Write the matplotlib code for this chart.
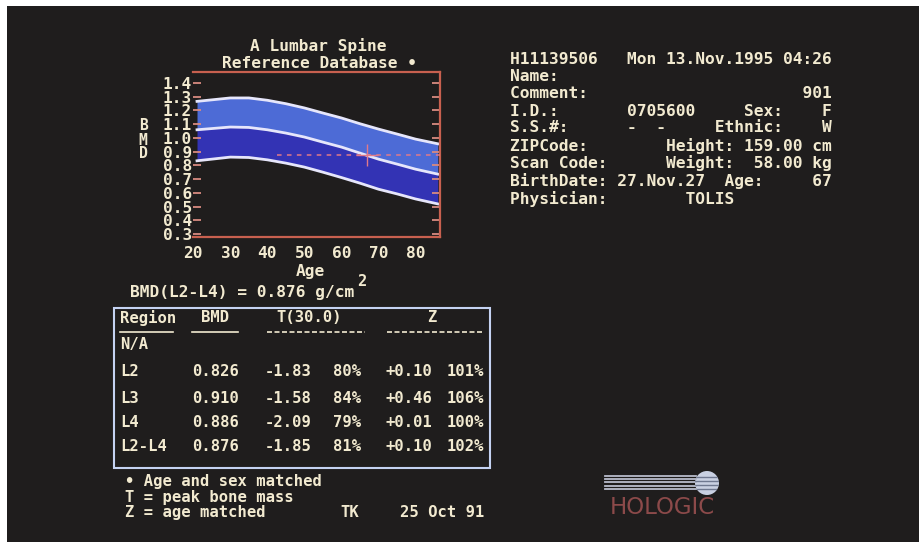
import matplotlib
matplotlib.use('Agg')
import matplotlib.pyplot as plt
from matplotlib.patches import Rectangle, Ellipse
from matplotlib.lines import Line2D

# ---------------- data ----------------
ages = [21, 30, 35, 40, 45, 50, 55, 60, 65, 70, 75, 80, 86]
upper = [1.266, 1.291, 1.291, 1.274, 1.249, 1.218, 1.181, 1.145, 1.103, 1.064, 1.028, 0.991, 0.957]
mean = [1.059, 1.079, 1.076, 1.059, 1.035, 1.006, 0.969, 0.933, 0.889, 0.845, 0.809, 0.772, 0.736]
lower = [0.833, 0.860, 0.857, 0.840, 0.816, 0.787, 0.750, 0.711, 0.670, 0.626, 0.592, 0.555, 0.519]
patient_age = 67
patient_bmd = 0.876
ref_line_start = 42.5

y_ticks = [0.3, 0.4, 0.5, 0.6, 0.7, 0.8, 0.9, 1.0, 1.1, 1.2, 1.3, 1.4]
x_ticks = [20, 30, 40, 50, 60, 70, 80]

regions = ['L2', 'L3', 'L4', 'L2-L4']
bmd_vals = [0.826, 0.910, 0.886, 0.876]
t_scores = [-1.83, -1.58, -2.09, -1.85]
t_pcts = [80, 84, 79, 81]
z_scores = [0.10, 0.46, 0.01, 0.10]
z_pcts = [101, 106, 100, 102]

info_lines = [
    "H11139506   Mon 13.Nov.1995 04:26",
    "Name:",
    "Comment:                      901",
    "I.D.:       0705600     Sex:    F",
    "S.S.#:      -  -     Ethnic:    W",
    "ZIPCode:        Height: 159.00 cm",
    "Scan Code:      Weight:  58.00 kg",
    "BirthDate: 27.Nov.27  Age:     67",
    "Physician:        TOLIS",
]

# ---------------- style ----------------
W, H = 919, 542
BG = '#1f1d1d'
TXT = '#f2ead0'
AXC = '#c8604f'
LIGHT = '#4d6bd6'
DARK = '#3333b4'
CURVE = '#e6e6fb'
PINK = '#e07a8a'
MONO = 'DejaVu Sans Mono'

fig = plt.figure(figsize=(W / 100, H / 100), dpi=100)
fig.patch.set_facecolor('white')
fig.add_artist(Rectangle((7 / W, 0), 1 - 7 / W, 1 - 6 / H, transform=fig.transFigure,
                         facecolor=BG, edgecolor='none', zorder=0))


def P(x, y):
    return x / W, 1 - y / H


def T(x, y, s, size=11.6, ha='left', color=TXT, **kw):
    fig.text(*P(x, y), s, ha=ha, va='center', fontsize=size, color=color,
             family=MONO, fontweight='bold', **kw)


# ---------------- chart ----------------
ax = fig.add_axes([193.3 / W, 1 - 236.7 / H, (440 - 193.3) / W, (236.7 - 72) / H])
ax.set_facecolor('none')
ax.set_xlim(20, 86.6)
ax.set_ylim(0.28, 1.48)
ax.fill_between(ages, mean, upper, color=LIGHT, lw=0, zorder=1)
ax.fill_between(ages, lower, mean, color=DARK, lw=0, zorder=1)
for c in (upper, mean, lower):
    ax.plot(ages, c, color=CURVE, lw=2.0, zorder=2)
ax.plot([ref_line_start, 86.6], [patient_bmd, patient_bmd], color=PINK, lw=1.1,
        ls=(0, (3, 3.5)), zorder=3)
ax.plot(patient_age, patient_bmd, marker='+', ms=16, mew=1.0, color=PINK, zorder=4)

for side in ('top', 'bottom', 'right'):
    ax.spines[side].set_color(AXC)
    ax.spines[side].set_linewidth(1.6)
ax.spines['left'].set_visible(False)

ax.set_yticks(y_ticks)
ax.set_yticklabels([f"{v:.1f}" for v in y_ticks])
ax.set_xticks(x_ticks)
ax.set_xticklabels([str(v) for v in x_ticks])
ax.tick_params(axis='y', direction='in', length=6, width=1.3, color='#d88a80',
               left=True, right=True, pad=1, labelcolor=TXT, labelsize=11.6)
ax.tick_params(axis='x', length=0, pad=7, labelcolor=TXT, labelsize=11.6)
for lab in ax.get_xticklabels() + ax.get_yticklabels():
    lab.set_family(MONO)
    lab.set_fontweight('bold')

T(318.6, 46, "A Lumbar Spine", ha='center')
T(319, 63, "Reference Database \u2022", ha='center')
T(310, 271.5, "Age", ha='center')
for ch, yy in zip("BMD", (126, 140, 154)):
    T(143, yy, ch, ha='center', size=10.5)

T(130, 292, "BMD(L2-L4) = %.3f g/cm" % patient_bmd)
T(357, 282, "2", size=11)

# ---------------- info block ----------------
info_y = [59, 76.7, 94, 111.7, 128, 145.7, 163, 181, 199]
for s, yy in zip(info_lines, info_y):
    fig.text(*P(510, yy), s, ha='left', va='center', fontsize=11.7, color=TXT,
             family=MONO, fontweight='bold')

# ---------------- table ----------------
fig.add_artist(Rectangle(P(114, 468), (490 - 114) / W, (468 - 308) / H,
                         transform=fig.transFigure, fill=False, ec='#c4d2f2', lw=1.5))
TS = 11.2
T(120, 318, "Region", size=TS)
T(215, 318, "BMD", size=TS, ha='center')
T(309, 318, "T(30.0)", size=TS, ha='center')
T(432, 318, "Z", size=TS, ha='center')
for (x0, x1), ls in zip([(120, 173), (192, 238), (267, 365), (387, 483)],
                        ['-', '-', (0, (3, 1.5)), (0, (3, 1.5))]):
    fig.add_artist(Line2D([x0 / W, x1 / W], [1 - 331.7 / H] * 2, transform=fig.transFigure,
                          color=TXT, lw=1.2, ls=ls))
T(120, 345, "N/A", size=TS)
row_y = [371.7, 398.3, 422.7, 446.7]
for r, b, t, tp, z, zp, yy in zip(regions, bmd_vals, t_scores, t_pcts, z_scores, z_pcts, row_y):
    T(120, yy, r, size=TS)
    T(191.7, yy, f"{b:.3f}", size=TS)
    T(265, yy, f"{t:+.2f}", size=TS)
    T(333, yy, f"{tp}%", size=TS)
    T(385, yy, f"{z:+.2f}", size=TS)
    T(446.7, yy, f"{zp}%", size=TS)

T(125, 481.7, "\u2022 Age and sex matched", size=TS)
T(125, 497.5, "T = peak bone mass", size=TS)
T(125, 512.5, "Z = age matched", size=TS)
T(340, 512.5, "TK", size=TS)
T(400, 512.5, "25 Oct 91", size=TS)

# ---------------- logo ----------------
for yy in (475.7, 479, 482.3, 485.7, 489):
    fig.add_artist(Line2D([605 / W, 696 / W], [1 - yy / H] * 2, transform=fig.transFigure,
                          color='#b8bccb', lw=1.3))
sphere = Ellipse(P(707, 483), 24 / W, 24 / H, transform=fig.transFigure,
                 facecolor='#c9d0e2', edgecolor='none')
fig.add_artist(sphere)
for yy in (477, 481, 485, 489):
    stripe = Line2D([690 / W, 725 / W], [1 - yy / H] * 2, transform=fig.transFigure,
                    color='#6f7890', lw=1.0)
    fig.add_artist(stripe)
    stripe.set_clip_path(sphere)
fig.text(*P(662, 507.5), "HOLOGIC", ha='center', va='center', fontsize=16.5,
         color='#8c4a4a', family='DejaVu Sans')

fig.savefig('out.png', dpi=100, facecolor=fig.get_facecolor())
